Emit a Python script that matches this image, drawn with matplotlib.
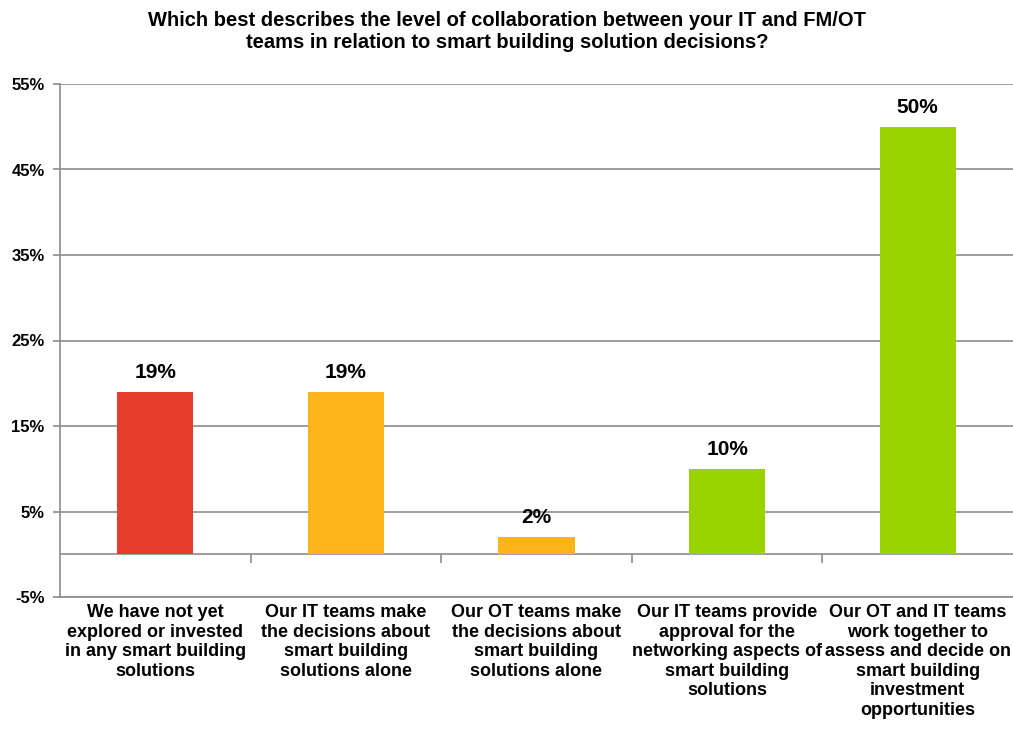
import matplotlib
matplotlib.use("Agg")
import matplotlib.pyplot as plt
import numpy as np

plt.rcParams['font.family'] = ['Liberation Sans', 'DejaVu Sans']

categories = [
    "We have not yet\nexplored or invested\nin any smart building\nsolutions",
    "Our IT teams make\nthe decisions about\nsmart building\nsolutions alone",
    "Our OT teams make\nthe decisions about\nsmart building\nsolutions alone",
    "Our IT teams provide\napproval for the\nnetworking aspects of\nsmart building\nsolutions",
    "Our OT and IT teams\nwork together to\nassess and decide on\nsmart building\ninvestment\nopportunities",
]
values = [19, 19, 2, 10, 50]
bar_colors = ["#E63D2F", "#FDB51B", "#FDB51B", "#99D400", "#99D400"]
yticks = [-5, 5, 15, 25, 35, 45, 55]

grey = "#8C8C8C"

fig = plt.figure(figsize=(10.13, 7.30), dpi=100)
ax = fig.add_axes([60/1013, 1-597/730, 953/1013, (597-84)/730])

x = np.arange(len(values))
ax.bar(x, values, width=0.4, color=bar_colors, zorder=3)

for xi, v in zip(x, values):
    ax.annotate(f"{v}%", (xi, v), xytext=(0, 7), textcoords="offset points",
                ha="center", va="bottom", fontsize=15, fontweight="bold")

ax.set_xlim(-0.5, len(values) - 0.5)
ax.set_ylim(yticks[0], yticks[-1])
ax.set_yticks(yticks)
ax.set_yticklabels([f"{t}%" for t in yticks], fontsize=12, fontweight="bold")
ax.yaxis.grid(True, color=grey, linewidth=1.2, zorder=0)

# zero line with category separators
ax.axhline(0, color=grey, linewidth=1.2, zorder=2)
bounds = x[:-1] + 0.5
ax.vlines(bounds, -1.0, 0, color=grey, linewidth=1.2, zorder=2)

ax.set_xticks(x)
ax.set_xticklabels(categories, fontsize=13, fontweight="bold", linespacing=1.2)
ax.tick_params(axis="x", length=0, pad=5)
ax.tick_params(axis="y", length=5, color=grey, width=1.2, pad=6)

for s in ["top", "right"]:
    ax.spines[s].set_visible(False)
for s in ["left", "bottom"]:
    ax.spines[s].set_color(grey)
    ax.spines[s].set_linewidth(1.2)

fig.text(507/1013, 1-32/730,
         "Which best describes the level of collaboration between your IT and FM/OT\n"
         "teams in relation to smart building solution decisions?",
         ha="center", va="center", fontsize=14.5, fontweight="bold", linespacing=1.2)

fig.savefig("out.png", dpi=100)
